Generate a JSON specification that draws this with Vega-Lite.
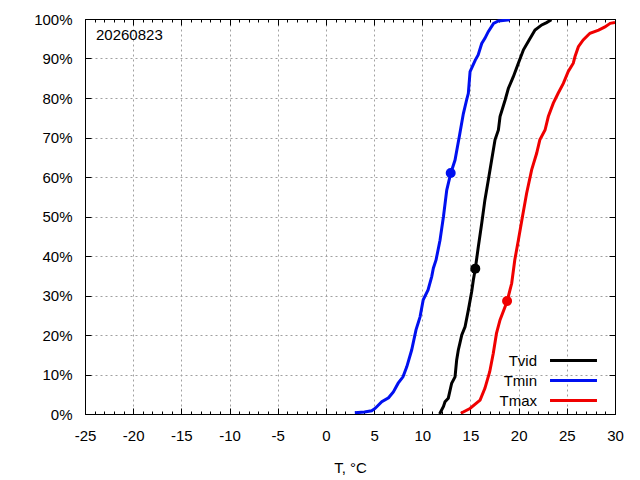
{
  "$schema": "https://vega.github.io/schema/vega-lite/v6.json",
  "width": 530,
  "height": 395,
  "autosize": {"type": "none"},
  "padding": {"left": 85, "top": 19, "right": 25, "bottom": 66},
  "background": "white",
  "title": {
    "text": "20260823",
    "anchor": "start",
    "frame": "group",
    "orient": "top",
    "offset": 0,
    "dx": 11,
    "dy": 43,
    "baseline": "alphabetic",
    "fontSize": 15,
    "fontWeight": "normal",
    "color": "black"
  },
  "config": {
    "font": "Liberation Sans",
    "view": {"stroke": "black", "strokeWidth": 1},
    "axis": {
      "domainColor": "black",
      "tickColor": "black",
      "labelColor": "black",
      "titleColor": "black",
      "labelFontSize": 15,
      "titleFontSize": 15,
      "titleFontWeight": "normal",
      "gridColor": "#a0a0a0",
      "gridDash": [2, 3],
      "gridWidth": 1,
      "labelOverlap": false,
      "labelFlush": false
    }
  },
  "datasets": {
    "cdf": [
      {"s": "Tmin", "T": 3.0, "P": 0.3}, {"s": "Tmin", "T": 4.0, "P": 0.5}, {"s": "Tmin", "T": 4.75, "P": 0.8},
      {"s": "Tmin", "T": 5.1, "P": 1.4}, {"s": "Tmin", "T": 5.8, "P": 3.1}, {"s": "Tmin", "T": 6.5, "P": 4.1},
      {"s": "Tmin", "T": 7.0, "P": 5.6}, {"s": "Tmin", "T": 7.5, "P": 7.8}, {"s": "Tmin", "T": 8.0, "P": 9.4},
      {"s": "Tmin", "T": 8.4, "P": 12}, {"s": "Tmin", "T": 8.9, "P": 16.2}, {"s": "Tmin", "T": 9.35, "P": 21.3},
      {"s": "Tmin", "T": 9.77, "P": 24.6}, {"s": "Tmin", "T": 10.1, "P": 28.9}, {"s": "Tmin", "T": 10.6, "P": 31.4},
      {"s": "Tmin", "T": 10.98, "P": 34.8}, {"s": "Tmin", "T": 11.15, "P": 36.9}, {"s": "Tmin", "T": 11.43, "P": 39},
      {"s": "Tmin", "T": 11.84, "P": 44}, {"s": "Tmin", "T": 12.2, "P": 50}, {"s": "Tmin", "T": 12.54, "P": 56.7},
      {"s": "Tmin", "T": 12.95, "P": 60.9}, {"s": "Tmin", "T": 13.4, "P": 64.3}, {"s": "Tmin", "T": 13.9, "P": 71},
      {"s": "Tmin", "T": 14.26, "P": 76}, {"s": "Tmin", "T": 14.6, "P": 79.5}, {"s": "Tmin", "T": 14.78, "P": 81.2},
      {"s": "Tmin", "T": 14.96, "P": 86.7}, {"s": "Tmin", "T": 15.5, "P": 89.6}, {"s": "Tmin", "T": 15.8, "P": 90.9},
      {"s": "Tmin", "T": 16.17, "P": 93.8}, {"s": "Tmin", "T": 16.5, "P": 95.1}, {"s": "Tmin", "T": 16.85, "P": 96.8},
      {"s": "Tmin", "T": 17.4, "P": 98.9}, {"s": "Tmin", "T": 17.9, "P": 99.5}, {"s": "Tmin", "T": 19.1, "P": 99.8},

      {"s": "Tvid", "T": 11.8, "P": 0}, {"s": "Tvid", "T": 12.2, "P": 1.9}, {"s": "Tvid", "T": 12.36, "P": 3.1},
      {"s": "Tvid", "T": 12.7, "P": 4}, {"s": "Tvid", "T": 13.05, "P": 7.8}, {"s": "Tvid", "T": 13.4, "P": 9.4},
      {"s": "Tvid", "T": 13.57, "P": 13.7}, {"s": "Tvid", "T": 13.74, "P": 16.2}, {"s": "Tvid", "T": 13.9, "P": 17.9},
      {"s": "Tvid", "T": 14.1, "P": 20}, {"s": "Tvid", "T": 14.44, "P": 22.1}, {"s": "Tvid", "T": 14.78, "P": 26.3},
      {"s": "Tvid", "T": 15.13, "P": 31}, {"s": "Tvid", "T": 15.3, "P": 33.9}, {"s": "Tvid", "T": 15.5, "P": 36.7},
      {"s": "Tvid", "T": 15.82, "P": 42.4}, {"s": "Tvid", "T": 16.17, "P": 48.3}, {"s": "Tvid", "T": 16.5, "P": 54.2},
      {"s": "Tvid", "T": 16.85, "P": 59.2}, {"s": "Tvid", "T": 17.2, "P": 64.3}, {"s": "Tvid", "T": 17.55, "P": 69.4},
      {"s": "Tvid", "T": 17.9, "P": 71.9}, {"s": "Tvid", "T": 18.07, "P": 75.3}, {"s": "Tvid", "T": 18.6, "P": 79.5},
      {"s": "Tvid", "T": 18.93, "P": 82.4}, {"s": "Tvid", "T": 19.45, "P": 85.4}, {"s": "Tvid", "T": 19.97, "P": 88.8},
      {"s": "Tvid", "T": 20.5, "P": 92.2}, {"s": "Tvid", "T": 21.0, "P": 94.3}, {"s": "Tvid", "T": 21.7, "P": 97.2},
      {"s": "Tvid", "T": 22.4, "P": 98.5}, {"s": "Tvid", "T": 22.9, "P": 99.1}, {"s": "Tvid", "T": 23.4, "P": 99.8},

      {"s": "Tmax", "T": 14.0, "P": 0.2}, {"s": "Tmax", "T": 14.95, "P": 1.4}, {"s": "Tmax", "T": 16.0, "P": 3.5},
      {"s": "Tmax", "T": 16.5, "P": 6.5}, {"s": "Tmax", "T": 17.0, "P": 10.7}, {"s": "Tmax", "T": 17.37, "P": 15.4},
      {"s": "Tmax", "T": 17.7, "P": 20.4}, {"s": "Tmax", "T": 18.07, "P": 23.8}, {"s": "Tmax", "T": 18.8, "P": 28.5},
      {"s": "Tmax", "T": 19.28, "P": 33.1}, {"s": "Tmax", "T": 19.6, "P": 39}, {"s": "Tmax", "T": 19.97, "P": 44},
      {"s": "Tmax", "T": 20.4, "P": 50}, {"s": "Tmax", "T": 20.83, "P": 55.9}, {"s": "Tmax", "T": 21.35, "P": 61.8},
      {"s": "Tmax", "T": 21.87, "P": 66}, {"s": "Tmax", "T": 22.2, "P": 69.4}, {"s": "Tmax", "T": 22.74, "P": 71.9},
      {"s": "Tmax", "T": 23.08, "P": 75.3}, {"s": "Tmax", "T": 23.6, "P": 78.7}, {"s": "Tmax", "T": 24.1, "P": 81.2},
      {"s": "Tmax", "T": 24.64, "P": 83.7}, {"s": "Tmax", "T": 25.15, "P": 86.7}, {"s": "Tmax", "T": 25.67, "P": 88.8},
      {"s": "Tmax", "T": 25.85, "P": 90.5}, {"s": "Tmax", "T": 26.2, "P": 93}, {"s": "Tmax", "T": 26.7, "P": 94.7},
      {"s": "Tmax", "T": 27.4, "P": 96.4}, {"s": "Tmax", "T": 28.3, "P": 97.2}, {"s": "Tmax", "T": 28.96, "P": 98},
      {"s": "Tmax", "T": 29.5, "P": 98.9}, {"s": "Tmax", "T": 30, "P": 99.1}
    ],
    "pts": [
      {"s": "Tvid", "T": 15.5, "P": 36.8},
      {"s": "Tmin", "T": 12.95, "P": 61.0},
      {"s": "Tmax", "T": 18.8, "P": 28.6}
    ]
  },
  "layer": [
    {
      "data": {"name": "cdf"},
      "mark": {"type": "line", "strokeWidth": 3, "clip": true},
      "encoding": {
        "x": {
          "field": "T",
          "type": "quantitative",
          "scale": {"domain": [-25, 30], "nice": false},
          "axis": {
            "orient": "bottom",
            "title": "T, °C",
            "titlePadding": 14,
            "values": [-25,-24,-23,-22,-21,-20,-19,-18,-17,-16,-15,-14,-13,-12,-11,-10,-9,-8,-7,-6,-5,-4,-3,-2,-1,0,1,2,3,4,5,6,7,8,9,10,11,12,13,14,15,16,17,18,19,20,21,22,23,24,25,26,27,28,29,30],
            "labelExpr": "datum.value % 5 === 0 ? toString(datum.value) : ''",
            "grid": true,
            "gridOpacity": {"condition": {"test": "datum.value % 5 === 0", "value": 1}, "value": 0},
            "tickSize": {"condition": {"test": "datum.value % 5 === 0", "value": -6}, "value": -3},
            "labelPadding": 20
          }
        },
        "y": {
          "field": "P",
          "type": "quantitative",
          "scale": {"domain": [0, 100], "nice": false},
          "axis": {
            "orient": "left",
            "title": null,
            "values": [0, 10, 20, 30, 40, 50, 60, 70, 80, 90, 100],
            "labelExpr": "datum.value + '%'",
            "grid": true,
            "tickSize": -6,
            "labelPadding": 19
          }
        },
        "color": {
          "field": "s",
          "type": "nominal",
          "scale": {"domain": ["Tvid", "Tmin", "Tmax"], "range": ["#000000", "#0010f0", "#f00000"]},
          "legend": {
            "orient": "none",
            "legendX": 479,
            "legendY": 332,
            "title": null,
            "symbolType": "M-3,0H3",
            "symbolSize": 245,
            "symbolStrokeWidth": 3,
            "labelAlign": "right",
            "labelOffset": -46,
            "labelFontSize": 15,
            "labelColor": "black",
            "rowPadding": 2
          }
        }
      }
    },
    {
      "data": {"name": "pts"},
      "mark": {"type": "circle", "size": 100, "opacity": 1},
      "encoding": {
        "x": {
          "field": "T",
          "type": "quantitative",
          "axis": {
            "orient": "top",
            "title": null,
            "labels": false,
            "grid": false,
            "values": [-25,-24,-23,-22,-21,-20,-19,-18,-17,-16,-15,-14,-13,-12,-11,-10,-9,-8,-7,-6,-5,-4,-3,-2,-1,0,1,2,3,4,5,6,7,8,9,10,11,12,13,14,15,16,17,18,19,20,21,22,23,24,25,26,27,28,29,30],
            "tickSize": {"condition": {"test": "datum.value % 5 === 0", "value": -6}, "value": -3}
          }
        },
        "y": {
          "field": "P",
          "type": "quantitative",
          "axis": {
            "orient": "right",
            "title": null,
            "labels": false,
            "grid": false,
            "values": [0, 10, 20, 30, 40, 50, 60, 70, 80, 90, 100],
            "tickSize": -6
          }
        },
        "color": {"field": "s", "type": "nominal", "legend": null}
      }
    }
  ],
  "resolve": {"axis": {"x": "independent", "y": "independent"}}
}
